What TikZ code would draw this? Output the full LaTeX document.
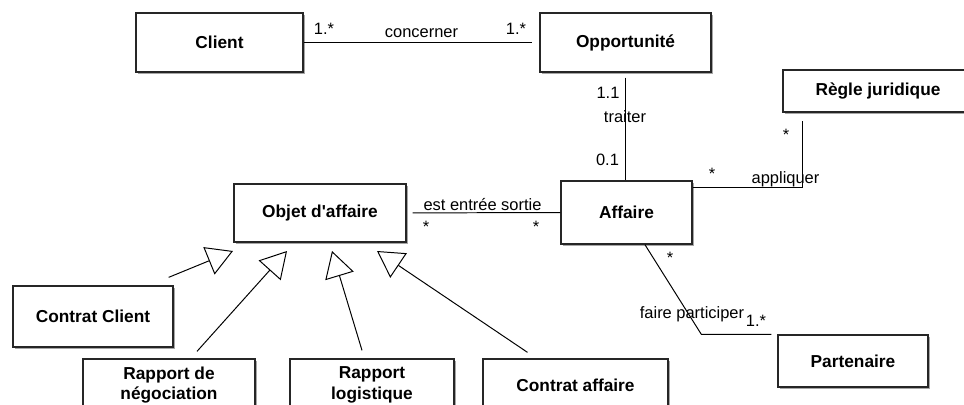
\documentclass[tikz,border=0pt]{standalone}
\usepackage{fontspec}
\setmainfont{Liberation Sans}
\usetikzlibrary{arrows.meta,positioning,shadows}

\begin{document}
\begin{tikzpicture}[
    x=0.025cm, y=-0.025cm,
    cls/.style={draw=black!85, line width=0.9pt, fill=white, align=center, inner sep=2pt, font=\fontsize{12.3}{14.5}\selectfont\bfseries, drop shadow={shadow xshift=0.05cm, shadow yshift=-0.05cm, fill=black!35, opacity=1}},
    assoc/.style={line width=0.7pt},
    gen/.style={line width=0.7pt, -{Triangle[open, length=18.5pt, width=21pt]}},
    lbl/.style={inner sep=0pt, font=\fontsize{11.7}{14}\selectfont}
]
\path[use as bounding box, fill=white] (0,0) rectangle (964,405);

\node[cls, minimum width=4.175cm, minimum height=1.475cm] (cli) at (219.5,42.5) {Client};
\node[cls, minimum width=4.275cm, minimum height=1.475cm] (opp) at (625.5,42.5) {Opportunité};
\node[cls, minimum width=4.75cm, minimum height=1.05cm] (rj) at (878,91) {Règle juridique};
\node[cls, minimum width=3.275cm, minimum height=1.575cm] (aff) at (626.5,212.5) {Affaire};
\node[cls, minimum width=4.3cm, minimum height=1.45cm] (obj) at (320,213) {Objet d\textquotesingle affaire};
\node[cls, minimum width=4cm, minimum height=1.525cm] (cc) at (93,316.5) {Contrat Client};
\node[cls, minimum width=4.3cm, minimum height=1.3cm] (rn) at (169,385) {Rapport de\\négociation};
\node[cls, minimum width=4.1cm, minimum height=1.3cm] (rl) at (372,385) {Rapport\\logistique};
\node[cls, minimum width=4.625cm, minimum height=1.3cm] (ca) at (575.5,385) {Contrat affaire};
\node[cls, minimum width=3.75cm, minimum height=1.3cm] (part) at (853,361) {Partenaire};

\coordinate (g1) at (233,251);
\coordinate (g2) at (287,251);
\coordinate (g3) at (332,251);
\coordinate (g4) at (377,251);

\draw[assoc, shorten >=5pt] (cli) -- (opp);
\draw[assoc, shorten <=3.5pt] (opp.south) -- (opp.south |- aff.north);
\draw[assoc, shorten >=5.7pt] ([yshift=-0.175cm]aff.north east) -| ([xshift=0.5cm]rj.south west);
\draw[assoc, shorten <=4.3pt] (obj) -- (aff);
\draw[assoc] ([xshift=0.46cm]aff.south) -- ([xshift=-1.9cm]part.north west) -- ([xshift=-0.15cm]part.north west);

\draw[gen] ([shift={(-0.125cm,0.2cm)}]cc.north east) -- (g1);
\draw[gen] ([shift={(0.7cm,0.175cm)}]rn.north) -- (g2);
\draw[gen] ([shift={(-0.25cm,0.2cm)}]rl.north) -- (g3);
\draw[gen] ([shift={(-1.2cm,0.15cm)}]ca.north) -- (g4);

\node[lbl] (m1) at (324,29) {1.*};
\node[lbl] (t1) at (421.5,33.5) {concerner};
\node[lbl] (m2) at (516,29) {1.*};
\node[lbl] (m3) at (608,93) {1.1};
\node[lbl] (t2) at (625,116.5) {traiter};
\node[lbl] (m4) at (607.5,160) {0.1};
\node[lbl] (m5) at (712,174) {*};
\node[lbl] (t3) at (785.5,179) {appliquer};
\node[lbl] (m6) at (786,134.5) {*};
\node[lbl] (t4) at (482.5,204.5) {est entrée sortie};
\node[lbl] (m7) at (426,226.5) {*};
\node[lbl] (m8) at (536,226.5) {*};
\node[lbl] (m9) at (670,258) {*};
\node[lbl] (t5) at (692,314) {faire participer};
\node[lbl] (m10) at (756,321) {1.*};
\end{tikzpicture}
\end{document}
